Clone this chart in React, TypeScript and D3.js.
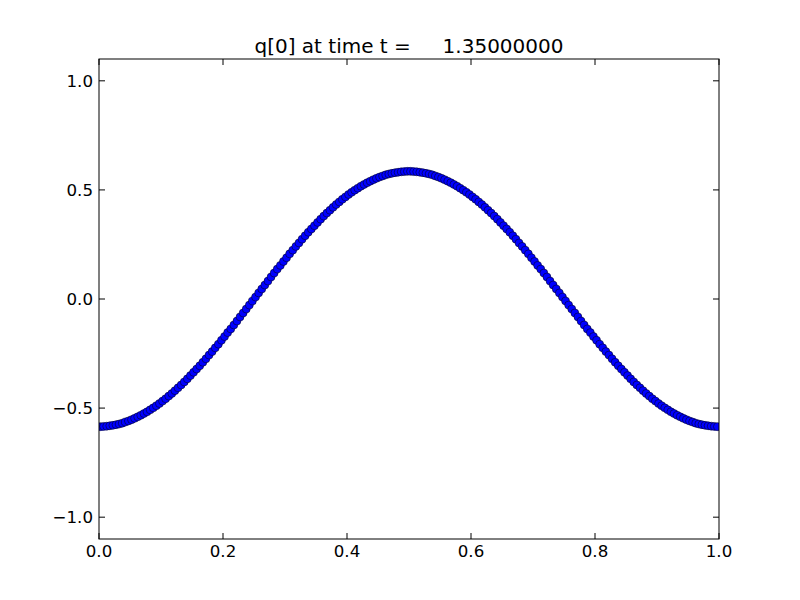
import React from "react";
import * as d3 from "d3";

const W = 800;
const H = 600;
const titleText = "q[0] at time t =     1.35000000";
const xTicks = [0.0, 0.2, 0.4, 0.6, 0.8, 1.0];
const yTicks = [-1.0, -0.5, 0.0, 0.5, 1.0];
const xDomain = [0, 1];
const yDomain = [-1.1, 1.1];

// q[0] values at 200 cell centres
const qValues = [
  -0.585, -0.584, -0.583, -0.581, -0.579, -0.576, -0.573, -0.569, -0.564, -0.559,
  -0.553, -0.547, -0.540, -0.533, -0.525, -0.517, -0.508, -0.499, -0.489, -0.479,
  -0.468, -0.457, -0.445, -0.433, -0.420, -0.407, -0.394, -0.380, -0.366, -0.351,
  -0.336, -0.321, -0.306, -0.290, -0.274, -0.257, -0.241, -0.224, -0.207, -0.189,
  -0.172, -0.154, -0.137, -0.119, -0.101, -0.082, -0.064, -0.046, -0.028, -0.009,
  0.009, 0.028, 0.046, 0.064, 0.082, 0.101, 0.119, 0.137, 0.154, 0.172,
  0.189, 0.207, 0.224, 0.241, 0.257, 0.274, 0.290, 0.306, 0.321, 0.336,
  0.351, 0.366, 0.380, 0.394, 0.407, 0.420, 0.433, 0.445, 0.457, 0.468,
  0.479, 0.489, 0.499, 0.508, 0.517, 0.525, 0.533, 0.540, 0.547, 0.553,
  0.559, 0.564, 0.569, 0.573, 0.576, 0.579, 0.581, 0.583, 0.584, 0.585,
  0.585, 0.584, 0.583, 0.581, 0.579, 0.576, 0.573, 0.569, 0.564, 0.559,
  0.553, 0.547, 0.540, 0.533, 0.525, 0.517, 0.508, 0.499, 0.489, 0.479,
  0.468, 0.457, 0.445, 0.433, 0.420, 0.407, 0.394, 0.380, 0.366, 0.351,
  0.336, 0.321, 0.306, 0.290, 0.274, 0.257, 0.241, 0.224, 0.207, 0.189,
  0.172, 0.154, 0.137, 0.119, 0.101, 0.082, 0.064, 0.046, 0.028, 0.009,
  -0.009, -0.028, -0.046, -0.064, -0.082, -0.101, -0.119, -0.137, -0.154, -0.172,
  -0.189, -0.207, -0.224, -0.241, -0.257, -0.274, -0.290, -0.306, -0.321, -0.336,
  -0.351, -0.366, -0.380, -0.394, -0.407, -0.420, -0.433, -0.445, -0.457, -0.468,
  -0.479, -0.489, -0.499, -0.508, -0.517, -0.525, -0.533, -0.540, -0.547, -0.553,
  -0.559, -0.564, -0.569, -0.573, -0.576, -0.579, -0.581, -0.583, -0.584, -0.585,
];
const xValues = qValues.map((_, i) => (i + 0.5) / qValues.length);

const L = 99, R = 719, T = 59, B = 539;
const font = "'DejaVu Sans', sans-serif";

export default function App() {
  const x = d3.scaleLinear().domain(xDomain).range([L, R]);
  const y = d3.scaleLinear().domain(yDomain).range([B, T]);
  const fmt = (v: number) => d3.format(".1f")(v).replace("-", "\u2212");
  const tl = 6;
  return (
    <svg width={W} height={H} style={{ position: "absolute", left: 0, top: 0, background: "#fff" }}>
      <rect x={0} y={0} width={W} height={H} fill="#fff" />
      <defs>
        <clipPath id="plotclip">
          <rect x={L} y={T} width={R - L} height={B - T} />
        </clipPath>
      </defs>
      <g clipPath="url(#plotclip)">
        {qValues.map((v, i) => (
          <circle key={i} cx={x(xValues[i])} cy={y(v)} r={4} fill="#0000ff" stroke="#000" strokeWidth={0.5} />
        ))}
      </g>
      <rect x={L} y={T} width={R - L} height={B - T} fill="none" stroke="#000" strokeWidth={1} />
      {xTicks.map((t) => (
        <g key={"x" + t}>
          <line x1={x(t)} x2={x(t)} y1={B} y2={B - tl} stroke="#000" />
          <line x1={x(t)} x2={x(t)} y1={T} y2={T + tl} stroke="#000" />
          <text x={x(t)} y={557} textAnchor="middle" fontFamily={font} fontSize={16.67} fill="#000">
            {fmt(t)}
          </text>
        </g>
      ))}
      {yTicks.map((t) => (
        <g key={"y" + t}>
          <line x1={L} x2={L + tl} y1={y(t)} y2={y(t)} stroke="#000" />
          <line x1={R} x2={R - tl} y1={y(t)} y2={y(t)} stroke="#000" />
          <text x={93} y={y(t)} dy="0.36em" textAnchor="end" fontFamily={font} fontSize={16.67} fill="#000">
            {fmt(t)}
          </text>
        </g>
      ))}
      <text x={(L + R) / 2} y={53} textAnchor="middle" fontFamily={font} fontSize={20} fill="#000" style={{ whiteSpace: "pre" }}>
        {titleText}
      </text>
    </svg>
  );
}
